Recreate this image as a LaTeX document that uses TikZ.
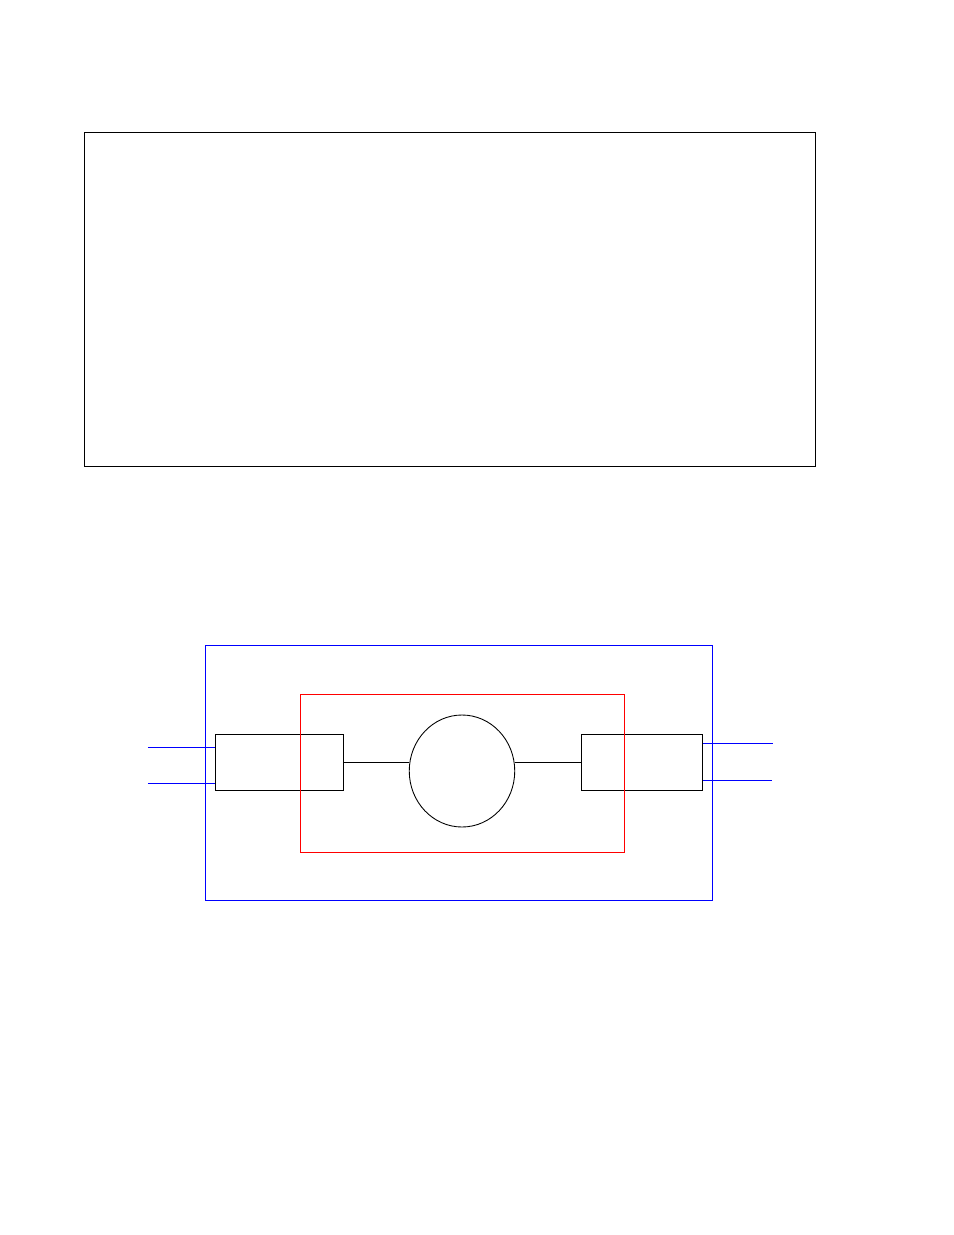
\documentclass[tikz,border=0pt]{standalone}
\usetikzlibrary{shapes.geometric}
\begin{document}
\begin{tikzpicture}[scale=0.2, line width=0.5pt]
    \tikzstyle{every node}+=[inner sep=0pt, outer sep=0pt]
    \tikzstyle{blockbox}=[draw=black, rectangle, minimum height=1.12cm]
    \useasboundingbox (0,0) rectangle (95.4,-123.5);
    \draw [black] (8.4,-13.2) rectangle (81.5,-46.6);
    \draw [blue] (20.5,-64.5) rectangle (71.2,-90);
    \node [blockbox, minimum width=2.56cm] (lbox) at (27.9,-76.23) {};
    \node [blockbox, minimum width=2.43cm] (rbox) at (64.2,-76.23) {};
    \node [draw=black, ellipse, minimum width=2.11cm, minimum height=2.24cm] (motor) at (46.2,-77.1) {};
    \draw [red] (30,-69.4) rectangle (62.4,-85.2);
    \draw [black] (lbox.east) -- (lbox.east -| motor.west);
    \draw [black] (rbox.west -| motor.east) -- (rbox.west);
    \coordinate (in1) at (14.8,-74.73);
    \coordinate (in2) at (14.8,-78.33);
    \coordinate (out1) at (77.27,-74.33);
    \coordinate (out2) at (77.2,-78.03);
    \draw [blue] (in1) -- (in1 -| lbox.west);
    \draw [blue] (in2) -- (in2 -| lbox.west);
    \draw [blue] (out1 -| rbox.east) -- (out1);
    \draw [blue] (out2 -| rbox.east) -- (out2);
\end{tikzpicture}
\end{document}
